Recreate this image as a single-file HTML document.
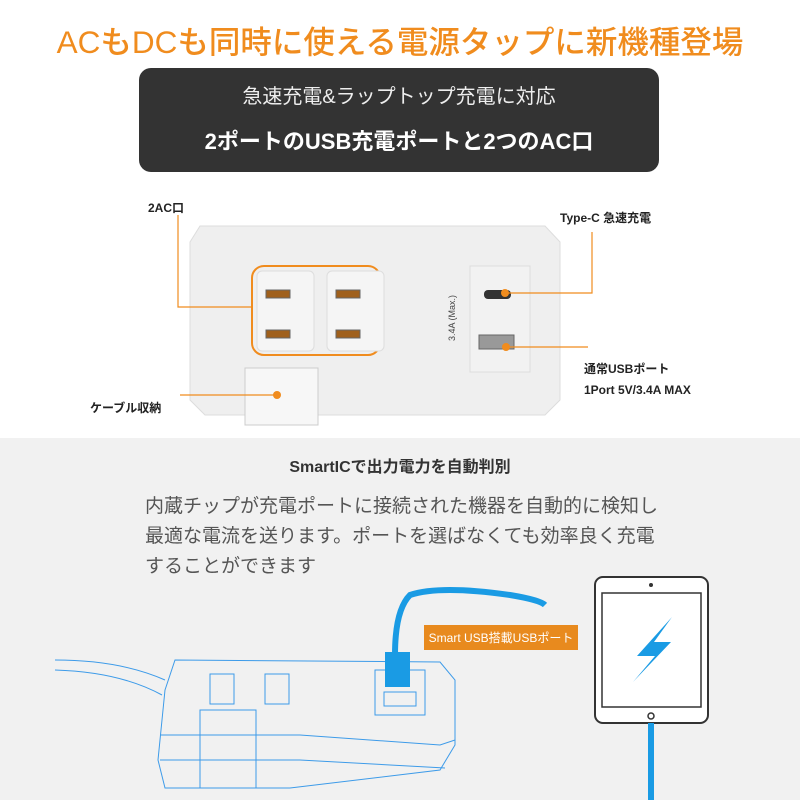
<!DOCTYPE html>
<html><head><meta charset="utf-8"><style>
*{margin:0;padding:0;box-sizing:border-box}
body{width:800px;height:800px;overflow:hidden;position:relative;background:#fff;font-family:"Liberation Sans","Noto Sans CJK JP",sans-serif}
.a{position:absolute;white-space:nowrap}
</style></head><body>
<div class="a" style="left:0;top:438px;width:800px;height:362px;background:#f1f1f1"></div>
<div class="a" style="left:0;width:800px;top:17px;text-align:center;font-size:31.5px;color:#f08c1e;font-weight:500">ACもDCも同時に使える電源タップに新機種登場</div>
<div class="a" style="left:139px;top:68px;width:520px;height:104px;background:#333;border-radius:12px"></div>
<div class="a" style="left:139px;width:520px;top:80px;text-align:center;font-size:20px;color:#eee">急速充電&amp;ラップトップ充電に対応</div>
<div class="a" style="left:139px;width:520px;top:124px;text-align:center;font-size:22px;color:#fff;font-weight:bold">2ポートのUSB充電ポートと2つのAC口</div>

<svg class="a" style="left:0;top:0" width="800" height="800">
<polygon points="200,226 545,226 560,242 560,400 545,415 205,415 190,400 190,242" fill="#efefef" stroke="#ddd"/>
<rect x="252" y="266" width="128" height="89" rx="12" fill="none" stroke="#f08c1e" stroke-width="2"/>
<rect x="257" y="271" width="57" height="80" rx="5" fill="#f5f5f5" stroke="#ddd"/>
<rect x="327" y="271" width="57" height="80" rx="5" fill="#f5f5f5" stroke="#ddd"/>
<g fill="#a0601c" stroke="#666" stroke-width="1"><rect x="266" y="290" width="24" height="8"/><rect x="266" y="330" width="24" height="8"/><rect x="336" y="290" width="24" height="8"/><rect x="336" y="330" width="24" height="8"/></g>
<rect x="470" y="266" width="60" height="106" fill="#f2f2f2" stroke="#ddd"/>
<rect x="484" y="290" width="27" height="9" rx="4" fill="#333"/>
<rect x="479" y="335" width="35" height="14" fill="#999" stroke="#666"/>
<rect x="245" y="368" width="73" height="57" fill="#f7f7f7" stroke="#ccc"/>
<text x="455" y="318" transform="rotate(-90 455 318)" font-size="9" fill="#444" text-anchor="middle" font-family="Liberation Sans">3.4A (Max.)</text>
<g stroke="#f08c1e" stroke-width="1.2" fill="none">
<polyline points="178,215 178,307 252,307"/>
<polyline points="592,232 592,293 505,293"/>
<polyline points="510,347 588,347"/>
<polyline points="180,395 277,395"/>
</g>
<g fill="#f08c1e"><circle cx="505" cy="293" r="4"/><circle cx="506" cy="347" r="4"/><circle cx="277" cy="395" r="4"/></g>

<g fill="none" stroke="#3d9be9" stroke-width="1">
<path d="M55,660 Q120,660 165,680 M55,670 Q120,672 162,695"/>
<path d="M165,690 L175,660 L440,662 L455,680 L455,745 L440,770 L290,788 L165,788 L158,760 Z"/>
<path d="M160,735 L300,735 L440,745 L455,740"/>
<path d="M160,760 L300,760 L445,768"/>
<rect x="200" y="710" width="56" height="78"/>
<rect x="210" y="674" width="24" height="30"/><rect x="265" y="674" width="24" height="30"/>
<rect x="375" y="670" width="50" height="45"/>
<rect x="384" y="692" width="32" height="14"/>
</g>
<path d="M395,655 Q395,610 410,595 Q440,585 510,595 Q540,600 545,605" stroke="#1a9be4" stroke-width="6" fill="none"/>
<rect x="385" y="652" width="25" height="35" fill="#1a9be4"/>
<rect x="424" y="625" width="154" height="25" fill="#e88a1e"/>
<text x="501" y="642" font-size="12" fill="#fff" text-anchor="middle">Smart USB搭載USBポート</text>
<rect x="595" y="577" width="113" height="146" rx="8" fill="#fff" stroke="#333" stroke-width="2"/>
<rect x="602" y="593" width="99" height="114" fill="#fff" stroke="#333" stroke-width="1.5"/>
<circle cx="651" cy="585" r="2" fill="#333"/><circle cx="651" cy="716" r="3" fill="none" stroke="#333" stroke-width="1.5"/>
<polygon points="672,617 637,656 655,656 633,682 671,642 654,642" fill="#1a9be4"/>
<rect x="648" y="723" width="6" height="77" fill="#1a9be4"/>
</svg>

<div class="a" style="left:148px;top:199px;font-size:12px;font-weight:bold;color:#222">2AC口</div>
<div class="a" style="left:560px;top:209px;font-size:12px;font-weight:bold;color:#222">Type-C 急速充電</div>
<div class="a" style="left:584px;top:360px;font-size:12px;font-weight:bold;color:#222">通常USBポート</div>
<div class="a" style="left:584px;top:383px;font-size:12px;font-weight:bold;color:#222">1Port 5V/3.4A MAX</div>
<div class="a" style="left:90px;top:399px;font-size:12px;font-weight:bold;color:#222">ケーブル収納</div>
<div class="a" style="left:0;width:800px;top:453px;text-align:center;font-size:16px;font-weight:bold;color:#333">SmartICで出力電力を自動判別</div>
<div class="a" style="left:145px;top:492px;font-size:19px;line-height:30px;color:#555;white-space:nowrap">内蔵チップが充電ポートに接続された機器を自動的に検知し<br>最適な電流を送ります。ポートを選ばなくても効率良く充電<br>することができます</div>
</body></html>
